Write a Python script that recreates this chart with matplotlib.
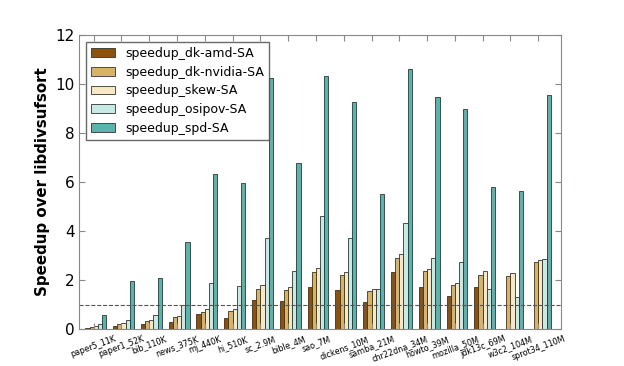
import matplotlib
matplotlib.use('Agg')
import matplotlib.pyplot as plt
import numpy as np

benchmarks = ['paper5_11K', 'paper1_52K', 'bib_110K', 'news_375K', 'mj_440K', 'hi_510K',
              'sc_2.9M', 'bible_4M', 'sao_7M', 'dickens_10M', 'samba_21M', 'chr22dna_34M',
              'howto_39M', 'mozilla_50M', 'jdk13c_69M', 'w3c2_104M', 'sprot34_110M']
speedup_dk_amd = [0.05, 0.12, 0.22, 0.29, 0.63, 0.45, 1.18, 1.15, 1.7, 1.58, 1.12, 2.34,
                  1.72, 1.35, 1.72, 0.0, 0.0]
speedup_dk_nvidia = [0.1, 0.2, 0.32, 0.48, 0.68, 0.72, 1.62, 1.58, 2.33, 2.2, 1.56, 2.9,
                     2.35, 1.78, 2.22, 2.18, 2.73]
speedup_skew = [0.12, 0.25, 0.37, 0.53, 0.8, 0.8, 1.8, 1.7, 2.5, 2.33, 1.62, 3.05,
                2.45, 1.88, 2.37, 2.27, 2.8]
speedup_osipov = [0.19, 0.35, 0.56, 1.0, 1.86, 1.75, 3.7, 2.36, 4.6, 3.7, 1.65, 4.33,
                  2.9, 2.75, 1.65, 1.29, 2.85]
speedup_spd = [0.57, 1.95, 2.08, 3.55, 6.35, 5.95, 10.25, 6.78, 10.35, 9.25, 5.5, 10.6,
               9.48, 9.0, 5.78, 5.65, 9.55]

series = [speedup_dk_amd, speedup_dk_nvidia, speedup_skew, speedup_osipov, speedup_spd]
names = ['speedup_dk-amd-SA', 'speedup_dk-nvidia-SA', 'speedup_skew-SA',
         'speedup_osipov-SA', 'speedup_spd-SA']
colors = ['#8c510a', '#d8b365', '#f6e8c3', '#c7eae5', '#5ab4ac']

fig = plt.figure(figsize=(6.24, 3.66), dpi=100)
ax = fig.add_axes([0.127, 0.101, 0.772, 0.803])

x = np.arange(len(benchmarks))
w = 0.15
for k, (vals, name, c) in enumerate(zip(series, names, colors)):
    ax.bar(x + k * w, vals, w, align='edge', color=c, edgecolor='#333333',
           linewidth=0.6, label=name)

ax.axhline(1.0, color='#555555', linestyle='--', linewidth=0.8)

ax.set_xlim(-0.22, len(benchmarks) + 0.12)
ax.set_ylim(0, 12)
ax.set_yticks(range(0, 13, 2))
ax.set_xticks(x + 2 * w)
ax.set_xticklabels(benchmarks, rotation=20, ha='center', fontsize=5.8)
ax.tick_params(axis='y', labelsize=11)
ax.tick_params(axis='x', pad=4)
ax.tick_params(direction='in', top=True, right=True, length=4, color='#888888')
for s in ax.spines.values():
    s.set_color('#888888')
ax.set_ylabel('Speedup over libdivsufsort', fontsize=10.8, fontweight='bold')

leg = ax.legend(loc='upper left', fontsize=9, fancybox=False, handlelength=1.9,
                labelspacing=0.45, borderaxespad=0.55)
leg.get_frame().set_edgecolor('#444444')

fig.savefig('out.png', dpi=100)
